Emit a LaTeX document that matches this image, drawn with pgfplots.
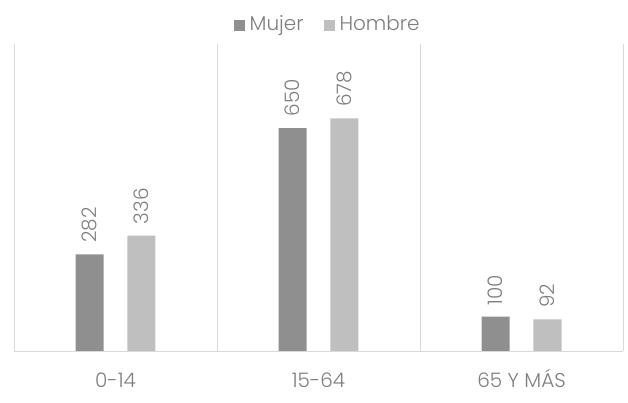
\documentclass[border=0pt]{standalone}
\usepackage{pgfplots}
\pgfplotsset{compat=1.18}
\usepackage{fontspec}
\setmainfont{Poppins Light}
\definecolor{mujer}{HTML}{8F8F8F}
\definecolor{hombre}{HTML}{BFBFBF}
\definecolor{txt}{HTML}{7F7F7F}
\definecolor{gridc}{HTML}{D9D9D9}
\begin{document}
\begin{tikzpicture}
\begin{axis}[
  scale only axis, width=609pt, height=307pt,
  xmin=-0.5, xmax=2.5, ymin=0, ymax=895,
  axis line style={draw=none},
  /pgf/number format/assume math mode=true,
  xtick={0,1,2}, xticklabels={0-14,15-64,65 Y MÁS},
  minor xtick={-0.5,0.5,1.5,2.5},
  minor x grid style={gridc, line width=0.9pt}, xminorgrids=true,
  major tick length=0pt, minor tick length=0pt,
  ytick=\empty,
  extra y ticks={0}, extra y tick labels={},
  extra y tick style={grid=major, major grid style={gridc, line width=0.9pt}},
  x tick label style={font=\fontsize{20}{22}\selectfont, text=txt, text height=15pt, text depth=3pt, yshift=-18pt},
  ybar, bar width=0.138,
  nodes near coords,
  every node near coord/.append style={rotate=90, anchor=west, font=\fontsize{20}{22}\selectfont, text=txt, xshift=8pt},
  legend style={draw=none, at={(0.515,1)}, anchor=south, yshift=8pt, font=\fontsize{20}{22}\selectfont, text=txt, legend columns=2,
    /tikz/every odd column/.append style={column sep=3pt},
    /tikz/every even column/.append style={column sep=18pt}},
  legend image code/.code={\fill[#1] (0pt,-7pt) rectangle (11pt,4pt);},
]
\addplot[fill=mujer, draw=none, bar shift=-0.128] coordinates {(0,282) (1,650) (2,100)};
\addplot[fill=hombre, draw=none, bar shift=0.128] coordinates {(0,336) (1,678) (2,92)};
\legend{Mujer, Hombre}
\end{axis}
\pgfresetboundingbox
\path (current axis.south west) ++(-14pt,-52pt) rectangle ++(628pt,403pt);
\end{tikzpicture}
\end{document}
